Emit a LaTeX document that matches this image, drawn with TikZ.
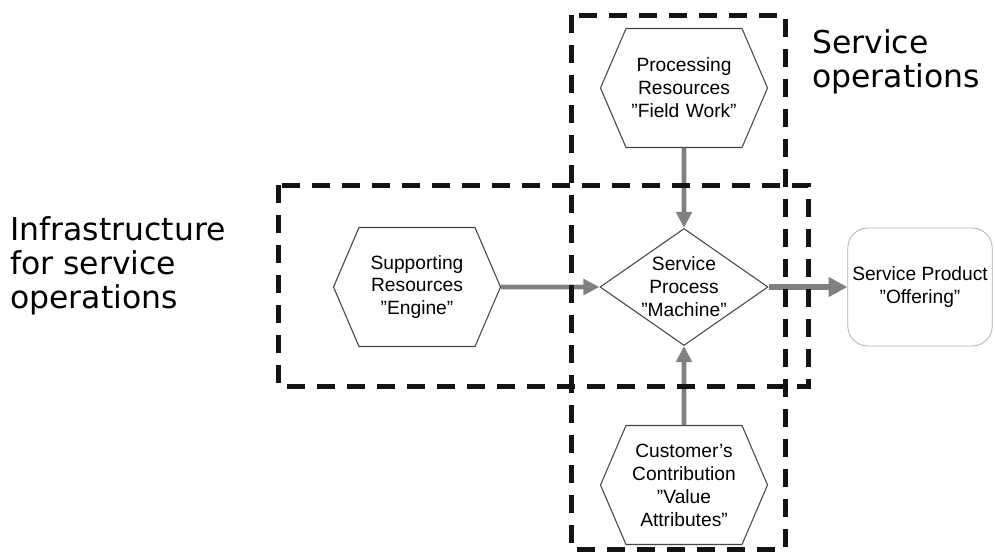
\documentclass[tikz,border=0pt]{standalone}
\usepackage{fontspec}
\setmainfont{Liberation Sans}
\newfontfamily\labelfont{DejaVu Sans}
\usetikzlibrary{shapes.geometric, shapes.symbols, arrows.meta}
\definecolor{flowgray}{RGB}{128, 128, 128}
\definecolor{edgegray}{RGB}{70, 70, 70}
\definecolor{boxgray}{RGB}{175, 175, 175}
\definecolor{dashblack}{RGB}{20, 20, 20}

\begin{document}
\begin{tikzpicture}[x=0.75pt, y=-0.75pt,
  hexbox/.style={signal, signal from=nowhere, signal to=east and west, signal pointer angle=133.6, draw=edgegray, line width=0.8pt, fill=white, text width=87pt, inner xsep=0pt, inner ysep=2pt, minimum height=89.25pt, align=center, font=\fontsize{14.4}{17.2}\selectfont},
  procbox/.style={diamond, draw=edgegray, line width=0.8pt, fill=white, inner sep=-20pt, minimum width=126pt, minimum height=87.75pt, align=center, font=\fontsize{14.4}{17.2}\selectfont},
  outbox/.style={rectangle, rounded corners=15pt, draw=boxgray, line width=0.6pt, fill=white, minimum width=106.5pt, minimum height=88.5pt, align=center, font=\fontsize{14.4}{17.2}\selectfont},
  biglabel/.style={anchor=west, align=left, inner sep=0pt, font=\labelfont\fontsize{23.6}{25.5}\selectfont},
  flowarrow/.style={draw=flowgray, line width=3.5pt, -{Triangle[length=12pt, width=11.5pt]}},
  groupframe/.style={draw=dashblack, line width=3.75pt, dash pattern=on 13.5pt off 9pt}]
  \useasboundingbox (0, 0) rectangle (995, 553);

  \node[hexbox] (fieldwork) at (684, 88) {Processing\\Resources\\”Field Work”};
  \node[hexbox] (engine) at (417, 287) {Supporting\\Resources\\”Engine”};
  \node[hexbox] (value) at (684, 485) {Customer’s\\Contribution\\”Value\\Attributes”};
  \node[procbox] (machine) at (684, 287) {Service\\Process\\”Machine”};
  \node[outbox] (offering) at (920, 287) {Service Product\\”Offering”};

  \node[biglabel] (infra) at (10, 266) {Infrastructure\\for service\\operations};
  \node[biglabel] (serviceops) at (812, 62) {Service\\operations};

  \draw[flowarrow] (fieldwork) -- (machine);
  \draw[flowarrow] (engine) -- (machine);
  \draw[flowarrow] (value) -- (machine);
  \draw[flowarrow, line width=4.5pt, -{Triangle[length=14pt, width=14pt]}] (machine) -- (offering);

  % dashed groupings
  \draw[groupframe] (571, 15) rectangle (785, 549);
  \draw[groupframe] (278, 185) rectangle (808, 386);
\end{tikzpicture}
\end{document}
